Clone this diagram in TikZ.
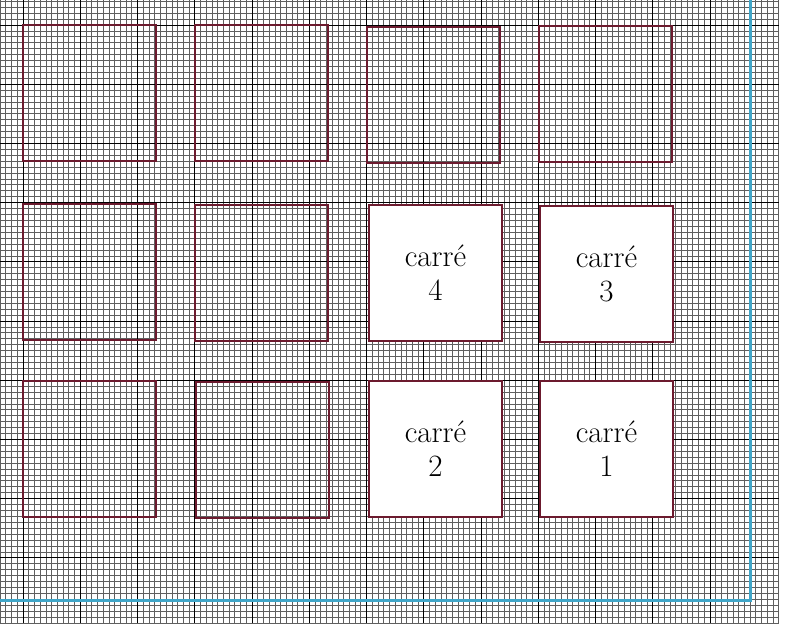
\documentclass[tikz,border=0pt]{standalone}
\definecolor{boxred}{RGB}{108,26,46}
\definecolor{lineblue}{RGB}{64,166,200}
\definecolor{minorgrey}{RGB}{95,95,95}
\begin{document}
\begin{tikzpicture}[x=1pt,y=-1pt,
  minorline/.style={minorgrey,line width=0.7pt},
  majorline/.style={black,line width=1pt},
  sq/.style={draw=boxred,line width=2pt,minimum width=133pt,minimum height=136pt,inner sep=0pt,anchor=north west},
  whitesq/.style={sq,fill=white,align=center,font=\fontsize{31}{34}\selectfont},
  blueline/.style={lineblue,line width=3pt}]
\useasboundingbox (0,0) rectangle (800,641);
% grid
\foreach \i in {0,...,136} \draw[minorline] ({0.1+\i*5.725},0) -- ({0.1+\i*5.725},623);
\foreach \j in {0,...,105} \draw[minorline] (0,{1.3+\j*5.92}) -- (778.7,{1.3+\j*5.92});
\foreach \k in {0,...,12} \draw[majorline] ({23+\k*57.25},0) -- ({23+\k*57.25},623);
\foreach \k in {0,...,9} \draw[majorline] (0,{25+\k*59.2}) -- (778.7,{25+\k*59.2});
% blue margin
\coordinate (bl) at (0,600);
\coordinate (tr) at (750,0);
\draw[blueline] (bl) -| (tr);
% squares
\node[sq] (r1c1) at (22,24) {};
\node[sq] (r1c2) at (194,24) {};
\node[sq] (r1c3) at (366,26) {};
\node[sq] (r1c4) at (538,25) {};
\node[sq] (r2c1) at (22,203) {};
\node[sq] (r2c2) at (194,204) {};
\node[whitesq] (r2c3) at (368,204) {carré\\4};
\node[whitesq] (r2c4) at (539,205) {carré\\3};
\node[sq] (r3c1) at (22,380) {};
\node[sq] (r3c2) at (195,381) {};
\node[whitesq] (r3c3) at (368,380) {carré\\2};
\node[whitesq] (r3c4) at (539,380) {carré\\1};
\end{tikzpicture}
\end{document}
